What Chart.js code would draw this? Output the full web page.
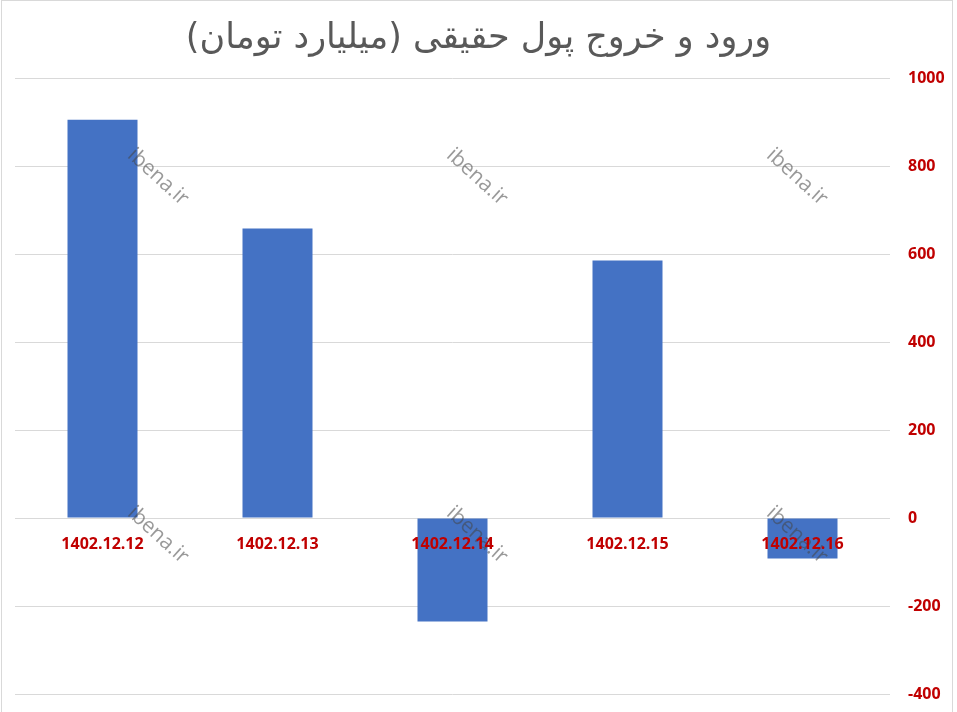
<!DOCTYPE html>
<html><head><meta charset="utf-8">
<script src="https://cdn.jsdelivr.net/npm/chart.js@4.4.1/dist/chart.umd.min.js"></script>
<style>html,body{margin:0;padding:0;background:#fff;}#wrap{width:957px;height:712px;position:relative;}</style>
</head><body><div id="wrap"><canvas id="c" width="957" height="712"></canvas></div>
<script>
const titleText = 'ورود و خروج پول حقیقی (میلیارد تومان)';
const categories = ['1402.12.12','1402.12.13','1402.12.14','1402.12.15','1402.12.16'];
const values = [905, 658, -235, 585, -92];
const yTicks = [1000, 800, 600, 400, 200, 0, -200, -400];
const watermark = 'ibena.ir';
const watermarkSpots = [[158,177],[477,177],[797,177],[158,535],[477,535],[797,535]];

const deco = {
  id: 'deco',
  beforeDraw(chart){
    const ctx = chart.ctx;
    ctx.save();
    ctx.fillStyle = '#fff';
    ctx.fillRect(0,0,chart.width,chart.height);
    ctx.strokeStyle = '#d9d9d9';
    ctx.lineWidth = 1;
    ctx.strokeRect(1.5, 0.5, 951, 713);
    ctx.restore();
  },
  afterDatasetsDraw(chart){
    const ctx = chart.ctx;
    ctx.save();
    ctx.font = '21px "Open Sans", sans-serif';
    ctx.fillStyle = 'rgba(70,70,70,0.55)';
    ctx.textAlign = 'center';
    ctx.textBaseline = 'middle';
    watermarkSpots.forEach(([x,y])=>{
      ctx.save();
      ctx.translate(x,y);
      ctx.rotate(42*Math.PI/180);
      ctx.fillText(watermark,0,0);
      ctx.restore();
    });
    ctx.restore();
  }
};

new Chart(document.getElementById('c'), {
  type: 'bar',
  data: { labels: categories, datasets: [{ data: values, backgroundColor: '#4472C4', borderWidth: 0, barPercentage: 0.4, categoryPercentage: 1.0 }] },
  options: {
    responsive: false, animation: false,
    layout: { padding: { left: 0, right: 0, top: 0, bottom: 18 } },
    plugins: {
      legend: { display: false }, tooltip: { enabled: false },
      title: { display: true, text: titleText, color: '#595959',
        font: { family: '"DejaVu Sans", sans-serif', size: 35, weight: 'normal' },
        padding: { top: 18, bottom: 18 } }
    },
    scales: {
      x: {
        position: { y: 0 },
        afterFit: s => { s.height = 0; },
        grid: { display: false, drawTicks: false },
        border: { display: false },
        ticks: { color: '#C00000', padding: 17, maxRotation: 0, autoSkip: false, z: 1,
          font: { family: '"Open Sans", sans-serif', size: 16, weight: 'bold' } }
      },
      y: {
        position: 'right', min: -400, max: 1000,
        afterBuildTicks: s => { s.ticks = yTicks.map(v => ({ value: v })); },
        afterFit: s => { s.width = 67; s.paddingTop = 0; s.paddingBottom = 0; },
        grid: { color: '#d9d9d9', drawTicks: false, lineWidth: 1 },
        border: { display: false },
        ticks: { color: '#C00000', padding: 18, callback: v => String(v),
          font: { family: '"Open Sans", sans-serif', size: 16, weight: 'bold' } }
      },
      yl: {
        axis: 'y', position: 'left', min: -400, max: 1000,
        afterFit: s => { s.width = 15; s.paddingTop = 0; s.paddingBottom = 0; },
        grid: { display: false, drawTicks: false },
        border: { display: false },
        ticks: { display: false }
      }
    }
  },
  plugins: [deco]
});
</script></body></html>
